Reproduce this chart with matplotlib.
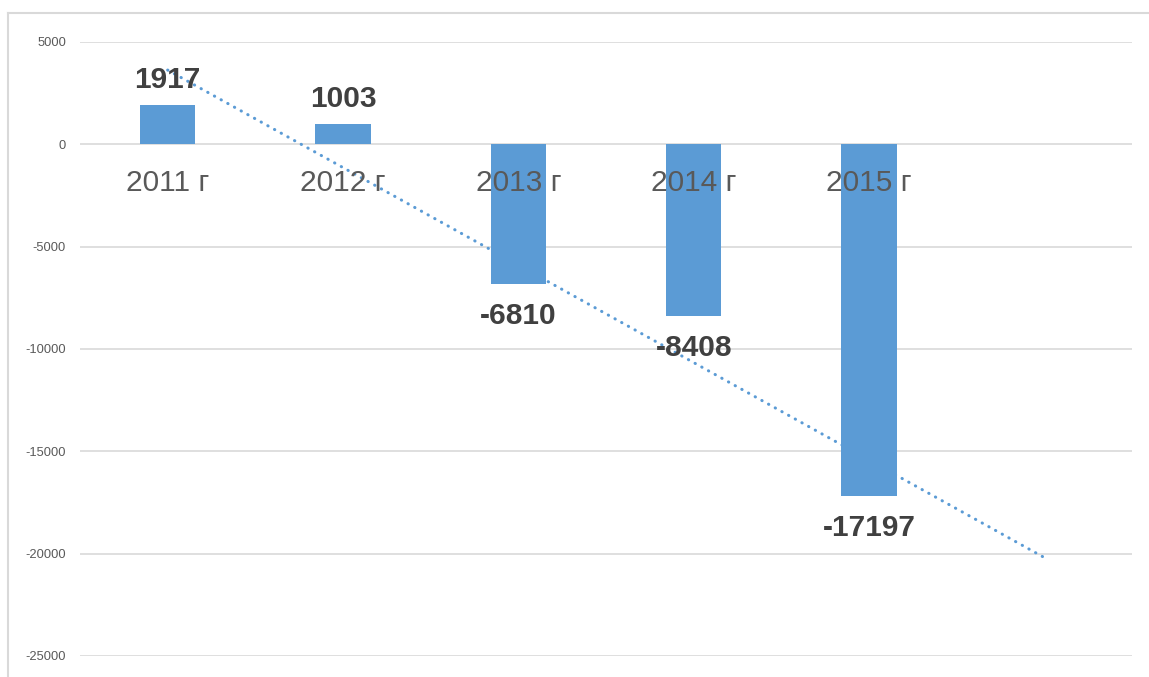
import numpy as np
import matplotlib.pyplot as plt
from matplotlib.lines import Line2D

years = ["2011 г", "2012 г", "2013 г", "2014 г", "2015 г"]
values = [1917, 1003, -6810, -8408, -17197]
yticks = [5000, 0, -5000, -10000, -15000, -20000, -25000]

bar_color = "#5B9BD5"
grid_color = "#D9D9D9"

plt.rcParams['font.family'] = ['Liberation Sans', 'DejaVu Sans']

W, H = 1149, 677
fig = plt.figure(figsize=(W / 100, H / 100), dpi=100)
ax = fig.add_axes([80 / W, (H - 656) / H, 1052 / W, 614 / H])

x = np.arange(1, len(values) + 1)
ax.bar(x, values, width=0.314, color=bar_color, zorder=3)

# linear trendline, one period forward
k, b = np.polyfit(x, values, 1)
xt = np.array([1, len(values) + 1])
ax.plot(xt, k * xt + b, color=bar_color, lw=2.2,
        linestyle=(0, (0.1, 2.4)), dash_capstyle='round', zorder=2.5)

for xi, v in zip(x, values):
    off = 18 if v > 0 else -23
    ax.annotate(str(v), (xi, v), xytext=(0, off), textcoords='offset points',
                ha='center', va='center', fontsize=21.5, fontweight='bold',
                color='#404040', zorder=5)
    ax.annotate(years[xi - 1], (xi, 0), xytext=(0, -27.5), textcoords='offset points',
                ha='center', va='center', fontsize=21.5, color='#595959', zorder=4)

ax.set_xlim(0.5, len(values) + 1.5)
ax.set_ylim(-25000, 5000)
ax.set_yticks(yticks)
ax.set_yticklabels([str(t) for t in yticks])
ax.set_xticks([])
ax.tick_params(axis='y', length=0, pad=10, labelsize=9.3, labelcolor='#595959')
ax.grid(axis='y', color=grid_color, lw=1.2, zorder=0)
ax.set_axisbelow(True)
for s in ax.spines.values():
    s.set_visible(False)

# chart frame (top and left edges visible)
fig.add_artist(Line2D([8 / W, 1], [1 - 13 / H, 1 - 13 / H], color=grid_color, lw=1.5))
fig.add_artist(Line2D([8 / W, 8 / W], [0, 1 - 13 / H], color=grid_color, lw=1.5))

fig.savefig("out.png", dpi=100)
